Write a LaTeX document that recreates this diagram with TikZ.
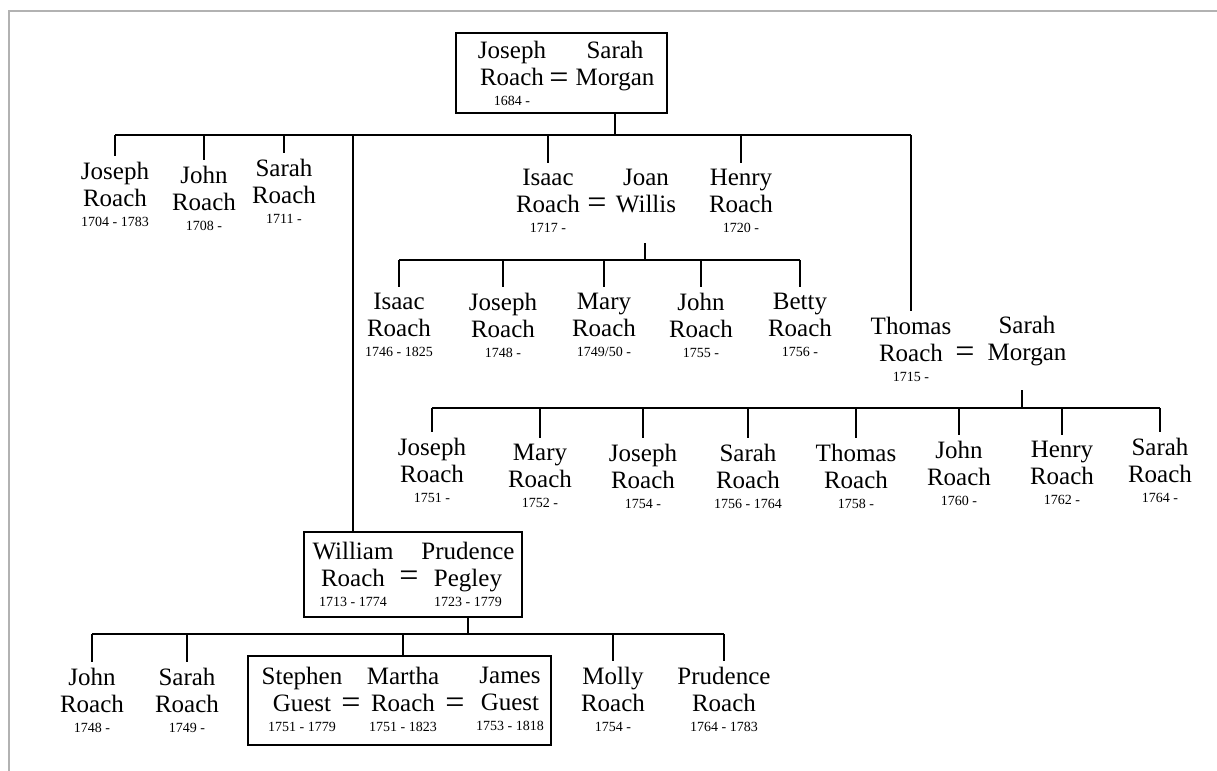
\documentclass[tikz,border=0pt]{standalone}
\usepackage{fontspec}
\setmainfont{Liberation Serif}
\newcommand{\yr}[1]{{\fontsize{7}{8}\selectfont #1}}
\begin{document}
\begin{tikzpicture}[x=0.5pt, y=-0.5pt,
    person/.style={align=center, anchor=north, inner xsep=1pt, inner ysep=3pt,
      font=\fontsize{12.5}{13.5}\selectfont},
    eq/.style={inner sep=0pt, font=\fontsize{17}{17}\selectfont},
    couple/.style={draw, line width=0.8pt, inner sep=0pt},
    tree/.style={line width=0.9pt}]

      \useasboundingbox (0,0) rectangle (1217,771);
      \draw[gray!60, line width=1pt] (9,771) -- (9,11) -- (1217,11);

      % Joseph and Sarah
      \node[person] (jr0) at (512,35) {Joseph\\Roach\\[-3.5pt]\yr{1684 -}};
      \node[eq] (eq0) at (559,81) {=};
      \node[person] (sm0) at (615,35) {Sarah\\Morgan};
      \node[couple, minimum width=105.5pt, minimum height=40pt] (box0) at (561.5,73) {};

      \coordinate (bar0a) at (115,135);
      \coordinate (bar0b) at (911,135);
      \draw[tree] (bar0a) -- (bar0b);
      \draw[tree] (box0.south -| sm0) -- (sm0 |- bar0a);

      \node[person] (jr1) at (115,156) {Joseph\\Roach\\[-3.5pt]\yr{1704 - 1783}};
      \node[person] (jn1) at (204,160) {John\\Roach\\[-3.5pt]\yr{1708 -}};
      \node[person] (sr1) at (284,153) {Sarah\\Roach\\[-3.5pt]\yr{1711 -}};
      \node[person] (ir1) at (548,163) {Isaac\\Roach\\[-3.5pt]\yr{1717 -}};
      \node[eq] (eq1) at (597,206) {=};
      \node[person] (jw1) at (646,163) {Joan\\Willis};
      \node[person] (hr1) at (741,163) {Henry\\Roach\\[-3.5pt]\yr{1720 -}};
      \foreach \k in {jr1,jn1,sr1,ir1,hr1}
        \draw[tree] (\k |- bar0a) -- (\k.north);

      % Isaac and Joan
      \coordinate (dn1) at (645,243);
      \coordinate (bar1a) at (399,260);
      \coordinate (bar1b) at (800,260);
      \draw[tree] (bar1a) -- (bar1b);
      \draw[tree] (dn1) -- (dn1 |- bar1a);

      \node[person] (ir2) at (399,287) {Isaac\\Roach\\[-3.5pt]\yr{1746 - 1825}};
      \node[person] (jr2) at (503,287) {Joseph\\Roach\\[-3.5pt]\yr{1748 -}};
      \node[person] (mr2) at (604,287) {Mary\\Roach\\[-3.5pt]\yr{1749/50 -}};
      \node[person] (jn2) at (701,287) {John\\Roach\\[-3.5pt]\yr{1755 -}};
      \node[person] (br2) at (800,287) {Betty\\Roach\\[-3.5pt]\yr{1756 -}};
      \foreach \k in {ir2,jr2,mr2,jn2,br2}
        \draw[tree] (\k |- bar1a) -- (\k.north);

      % Thomas and Sarah
      \node[person] (tr1) at (911,311) {Thomas\\Roach\\[-3.5pt]\yr{1715 -}};
      \node[eq] (eq2) at (965,355) {=};
      \node[person] (sm1) at (1027,310) {Sarah\\Morgan};
      \draw[tree] (tr1 |- bar0a) -- (tr1.north);

      \coordinate (dn2) at (1022,390);
      \coordinate (bar2a) at (432,408);
      \coordinate (bar2b) at (1160,408);
      \draw[tree] (bar2a) -- (bar2b);
      \draw[tree] (dn2) -- (dn2 |- bar2a);

      \node[person] (jr3) at (432,432) {Joseph\\Roach\\[-3.5pt]\yr{1751 -}};
      \node[person] (mr3) at (540,438) {Mary\\Roach\\[-3.5pt]\yr{1752 -}};
      \node[person] (jp3) at (643,438) {Joseph\\Roach\\[-3.5pt]\yr{1754 -}};
      \node[person] (sr3) at (748,438) {Sarah\\Roach\\[-3.5pt]\yr{1756 - 1764}};
      \node[person] (tr3) at (856,438) {Thomas\\Roach\\[-3.5pt]\yr{1758 -}};
      \node[person] (jn3) at (959,435) {John\\Roach\\[-3.5pt]\yr{1760 -}};
      \node[person] (hr3) at (1062,435) {Henry\\Roach\\[-3.5pt]\yr{1762 -}};
      \node[person] (ss3) at (1160,432) {Sarah\\Roach\\[-3.5pt]\yr{1764 -}};
      \foreach \k in {jr3,mr3,jp3,sr3,tr3,jn3,hr3,ss3}
        \draw[tree] (\k |- bar2a) -- (\k.north);

      % William and Prudence
      \node[person] (wr1) at (353,536) {William\\Roach\\[-3.5pt]\yr{1713 - 1774}};
      \node[eq] (eq3) at (409,579) {=};
      \node[person] (pp1) at (468,536) {Prudence\\Pegley\\[-3.5pt]\yr{1723 - 1779}};
      \node[couple, minimum width=109pt, minimum height=42.5pt] (box1) at (413,574.5) {};
      \draw[tree] (box1.north -| wr1) -- (wr1 |- bar0a);

      \coordinate (bar3a) at (92,634);
      \coordinate (bar3b) at (724,634);
      \draw[tree] (bar3a) -- (bar3b);
      \draw[tree] (box1.south -| pp1) -- (pp1 |- bar3a);

      \node[person] (jn4) at (92,662) {John\\Roach\\[-3.5pt]\yr{1748 -}};
      \node[person] (sr4) at (187,662) {Sarah\\Roach\\[-3.5pt]\yr{1749 -}};
      \node[person] (sg4) at (302,661) {Stephen\\Guest\\[-3.5pt]\yr{1751 - 1779}};
      \node[eq] (eq4) at (351,706) {=};
      \node[person] (mr4) at (403,661) {Martha\\Roach\\[-3.5pt]\yr{1751 - 1823}};
      \node[eq] (eq5) at (455,706) {=};
      \node[person] (jg4) at (510,661) {James\\Guest\\[-3.5pt]\yr{1753 - 1818}};
      \node[couple, minimum width=151.5pt, minimum height=44.5pt] (box2) at (399.5,700.5) {};
      \node[person] (mo4) at (613,661) {Molly\\Roach\\[-3.5pt]\yr{1754 -}};
      \node[person] (pr4) at (724,661) {Prudence\\Roach\\[-3.5pt]\yr{1764 - 1783}};
      \foreach \k in {jn4,sr4,mo4,pr4}
        \draw[tree] (\k |- bar3a) -- (\k.north);
      \draw[tree] (mr4 |- bar3a) -- (box2.north -| mr4);

    \end{tikzpicture}
\end{document}
